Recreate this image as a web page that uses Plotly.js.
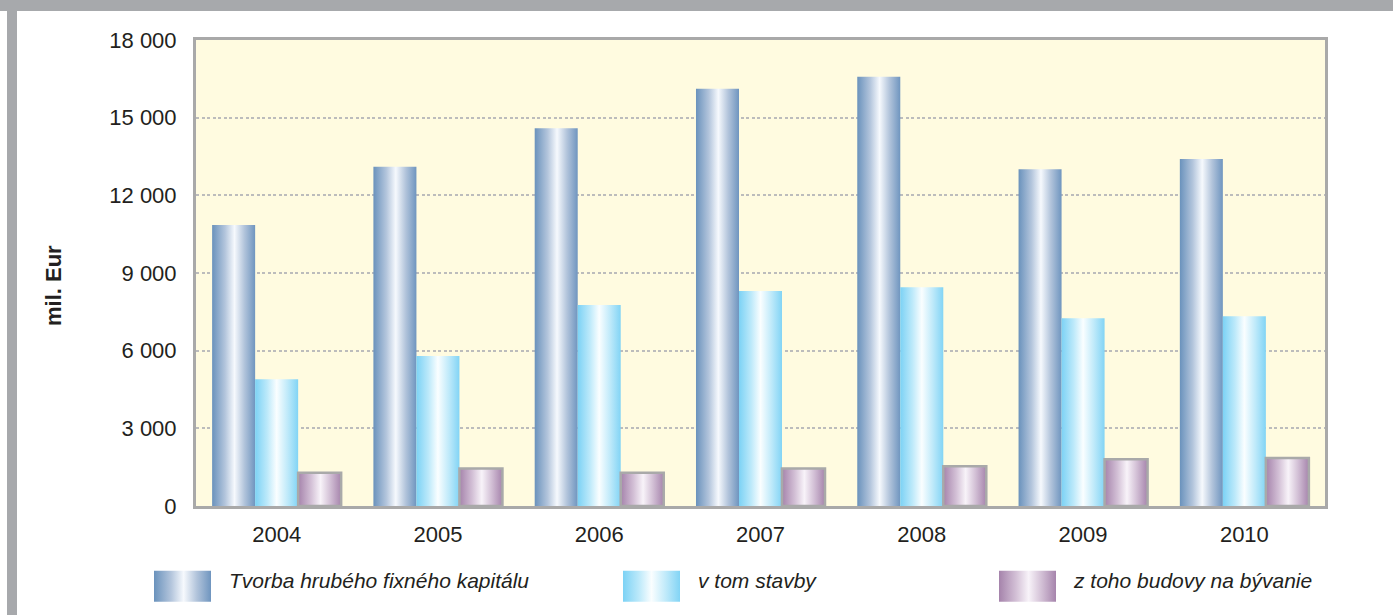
<!DOCTYPE html>
<html><head><meta charset="utf-8">
<script src="https://cdn.plot.ly/plotly-3.0.1.min.js"></script>
<style>
html,body{margin:0;padding:0;background:#fff;}
#wrap{position:relative;width:1393px;height:615px;overflow:hidden;background:#fff;}
#chart{position:absolute;left:0;top:0;width:1393px;height:615px;}
.band{position:absolute;background:#a7a9ac;pointer-events:none;}
</style></head>
<body><div id="wrap"><div id="chart"></div>
<div class="band" style="left:0;top:0;width:1393px;height:11px"></div>
<div class="band" style="left:7px;top:0;width:10px;height:615px"></div></div>
<script>
const years = ['2004', '2005', '2006', '2007', '2008', '2009', '2010'];
const tvorba = [10850, 13100, 14590, 16120, 16580, 13010, 13400];
const stavby = [4900, 5790, 7760, 8300, 8450, 7250, 7330];
const budovy = [1280, 1450, 1280, 1450, 1540, 1810, 1850];
const seriesNames = ['Tvorba hrubého fixného kapitálu', 'v tom stavby', 'z toho budovy na bývanie'];
const yTicks = [0, 3000, 6000, 9000, 12000, 15000, 18000];
const yTitle = 'mil. Eur';

const FONT = '"Liberation Sans", Arial, Helvetica, sans-serif';
const gradStops = [
  [['0', '#6a92bc'], ['0.3', '#b3c5dc'], ['0.52', '#f6f9fd'], ['0.75', '#b2c4db'], ['1', '#6f95bf']],
  [['0', '#7cd2f5'], ['0.28', '#bce9fa'], ['0.5', '#fafeff'], ['0.75', '#c0eafa'], ['1', '#82d4f5']],
  [['0', '#a583ab'], ['0.3', '#d3c0d6'], ['0.52', '#f8f3f9'], ['0.75', '#d2bfd5'], ['1', '#a684ac']]
];
const baseColors = ['#8eaacc', '#a6e0f7', '#c3a9c6'];

const traces = [tvorba, stavby, budovy].map((vals, i) => ({
  type: 'bar', x: years, y: vals, name: seriesNames[i],
  legend: i === 0 ? 'legend' : 'legend' + (i + 1),
  showlegend: true,
  marker: {color: baseColors[i], line: {color: '#a9a9a9', width: i === 2 ? 2.5 : 0}},
  hoverinfo: 'x+y'
}));

const legendBase = {
  orientation: 'h', xref: 'container', yref: 'container', yanchor: 'middle', xanchor: 'left',
  bgcolor: 'rgba(0,0,0,0)', borderwidth: 0,
  font: {family: FONT, size: 21, color: '#231f20', style: 'italic'}
};

const layout = {
  width: 1393, height: 615,
  margin: {l: 196, r: 68, t: 40, b: 109},
  paper_bgcolor: 'rgba(0,0,0,0)',
  plot_bgcolor: '#fffbe0',
  separators: ', ',
  bargap: 0.2, bargroupgap: 0, barmode: 'group',
  font: {family: FONT, size: 22, color: '#231f20'},
  showlegend: true,
  legend: Object.assign({}, legendBase, {x: 189 / 1393, y: 1 - 580 / 615}),
  legend2: Object.assign({}, legendBase, {x: 658 / 1393, y: 1 - 580 / 615}),
  legend3: Object.assign({}, legendBase, {x: 1034 / 1393, y: 1 - 580 / 615}),
  xaxis: {
    type: 'category', showline: true, mirror: true, linecolor: '#a9a9a9', linewidth: 3,
    ticks: '', tickfont: {family: FONT, size: 22, color: '#231f20'},
    ticklabelstandoff: 7, showgrid: false, zeroline: false, fixedrange: true
  },
  yaxis: {
    range: [0, 18000], tickvals: yTicks, tickformat: ',d',
    showline: true, mirror: true, linecolor: '#a9a9a9', linewidth: 3,
    ticks: '', ticklabelstandoff: 12,
    tickfont: {family: FONT, size: 22, color: '#231f20'},
    showgrid: true, gridcolor: '#bcbcbc', gridwidth: 2, griddash: '3px,2.5px',
    zeroline: false, fixedrange: true
  },
  annotations: [{
    text: yTitle, textangle: -90, showarrow: false,
    xref: 'paper', yref: 'paper', x: (53 - 196) / 1129, y: (506 - 286) / 466,
    xanchor: 'center', yanchor: 'middle',
    font: {family: FONT, size: 22, color: '#231f20', weight: 'bold'}
  }]
};

const NS = 'http://www.w3.org/2000/svg';
function ensureDefs(gd) {
  if (document.getElementById('gradA0')) return;
  const svg = gd.querySelector('svg.main-svg');
  const defs = document.createElementNS(NS, 'defs');
  gradStops.forEach((stops, i) => {
    const lg = document.createElementNS(NS, 'linearGradient');
    lg.setAttribute('id', 'gradA' + i);
    lg.setAttribute('x1', '0'); lg.setAttribute('y1', '0');
    lg.setAttribute('x2', '1'); lg.setAttribute('y2', '0');
    stops.forEach(([off, col]) => {
      const s = document.createElementNS(NS, 'stop');
      s.setAttribute('offset', off); s.setAttribute('stop-color', col);
      lg.appendChild(s);
    });
    defs.appendChild(lg);
  });
  svg.insertBefore(defs, svg.firstChild);
}
function traceIndex(el) {
  const d = el.__data__;
  if (d && d[0] && d[0].trace) return d[0].trace.index;
  return null;
}
function styleChart(gd) {
  try { ensureDefs(gd); } catch (e) {}
  gd.querySelectorAll('.barlayer .trace').forEach((tr) => {
    const idx = traceIndex(tr);
    if (idx === null) return;
    tr.querySelectorAll('path').forEach(p => { p.style.fill = 'url(#gradA' + idx + ')'; });
  });
  gd.querySelectorAll('[clip-path]').forEach(e => {
    const cp = e.getAttribute('clip-path') || '';
    if (cp.indexOf('legend') >= 0) e.removeAttribute('clip-path');
  });
  gd.querySelectorAll('g.traces').forEach((tr) => {
    try {
      const idx = traceIndex(tr);
      const txt = tr.querySelector('text');
      const p = tr.querySelector('.legendpoints path');
      if (!txt || !p || idx === null) return;
      const tctm = txt.getCTM(), pctm = p.getCTM();
      const tx = tctm.e + parseFloat(txt.getAttribute('x') || 0);
      const right = tx - 18 - pctm.e, left = right - 57;
      p.setAttribute('d', 'M' + left + ',-9H' + right + 'V22H' + left + 'Z');
      p.style.fill = 'url(#gradA' + idx + ')';
      p.style.stroke = 'none';
      p.style.strokeWidth = '0';
    } catch (e) {}
  });
}
const gd = document.getElementById('chart');
Plotly.newPlot(gd, traces, layout, {displayModeBar: false, responsive: false, staticPlot: true}).then(() => {
  styleChart(gd);
  gd.on('plotly_afterplot', () => styleChart(gd));
  let n = 0;
  const iv = setInterval(() => { styleChart(gd); if (++n > 30) clearInterval(iv); }, 50);
  requestAnimationFrame(() => styleChart(gd));
});
</script>
</body></html>
